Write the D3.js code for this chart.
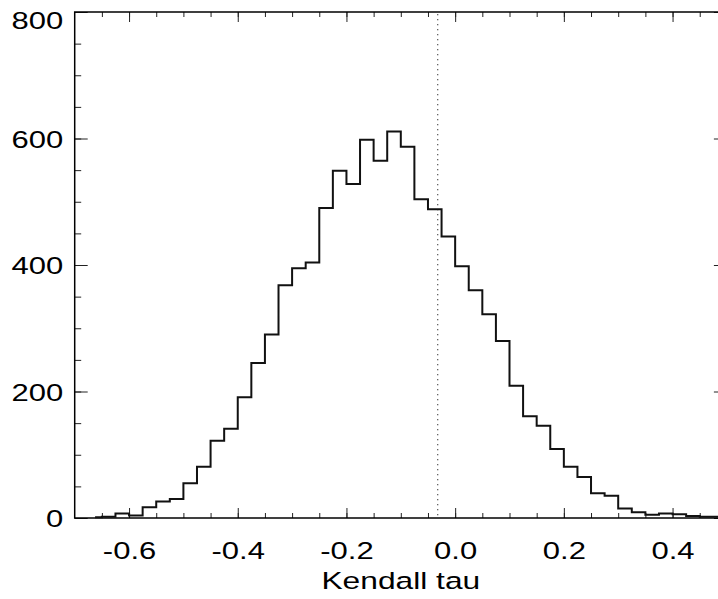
<!DOCTYPE html>
<html>
<head>
<meta charset="utf-8">
<script src="https://cdn.jsdelivr.net/npm/d3@7"></script>
<style>
  body { margin: 0; background: #fff; }
  svg { display: block; }
  .tick text, .axis-text { font-family: "Liberation Sans", Arial, sans-serif; fill: #000; }
</style>
</head>
<body>
<div class="chart"></div>
<script>
// Histogram data: bin centres (width 0.025) and counts
var binCenters = [-0.6625, -0.6375, -0.6125, -0.5875, -0.5625, -0.5375, -0.5125, -0.4875,
  -0.4625, -0.4375, -0.4125, -0.3875, -0.3625, -0.3375, -0.3125, -0.2875, -0.2625,
  -0.2375, -0.2125, -0.1875, -0.1625, -0.1375, -0.1125, -0.0875, -0.0625, -0.0375,
  -0.0125, 0.0125, 0.0375, 0.0625, 0.0875, 0.1125, 0.1375, 0.1625, 0.1875, 0.2125,
  0.2375, 0.2625, 0.2875, 0.3125, 0.3375, 0.3625, 0.3875, 0.4125, 0.4375, 0.4625, 0.4875];
var counts = [1, 2, 7, 4, 17, 26, 30, 55,
  81, 122, 141, 191, 245, 290, 368, 395, 404,
  490, 549, 528, 598, 565, 611, 587, 504, 488,
  445, 398, 360, 322, 280, 209, 161, 146, 109, 81,
  65, 39, 35, 15, 9, 5, 7, 6, 3, 2, 2];
var observedTau = -0.032;

var xMajorTicks = [-0.6, -0.4, -0.2, 0.0, 0.2, 0.4];
var yMajorTicks = [0, 200, 400, 600, 800];

// Setup chart
var svgWidth = 718;
var svgHeight = 599;
var margin = { top: 12, left: 74.7 };
var width = 652.2;
var height = 506;

var svg = d3.select(".chart")
  .append("svg")
  .attr("width", svgWidth)
  .attr("height", svgHeight);
var chart = svg.append("g")
  .attr("transform", "translate(" + margin.left + "," + margin.top + ")");

var xScale = d3.scaleLinear().domain([-0.7, 0.5]).range([0, width]);
var yScale = d3.scaleLinear().domain([0, 800]).range([height, 0]);

var xMinor = d3.range(-0.65, 0.5, 0.05).map(function(d) { return +d.toFixed(2); });
var yMinor = d3.range(50, 800, 50);

// plain hyphen for negatives, like the original
var fmtX = function(d) { return d.toFixed(1).replace("−", "-"); };

// minor ticks on all four sides
function minorAxis(axis, ticks, size) {
  return axis.tickValues(ticks).tickSize(size).tickFormat("");
}
chart.append("g").attr("class", "minor")
  .attr("transform", "translate(0," + height + ")")
  .call(minorAxis(d3.axisTop(xScale), xMinor, 5));
chart.append("g").attr("class", "minor")
  .call(minorAxis(d3.axisBottom(xScale), xMinor, 5));
chart.append("g").attr("class", "minor")
  .call(minorAxis(d3.axisRight(yScale), yMinor, 6.5));
chart.append("g").attr("class", "minor")
  .attr("transform", "translate(" + width + ",0)")
  .call(minorAxis(d3.axisLeft(yScale), yMinor, 6.5));

// major ticks
var bottomAxis = d3.axisTop(xScale).tickValues(xMajorTicks).tickSize(10)
  .tickFormat(fmtX);
var leftAxis = d3.axisRight(yScale).tickValues(yMajorTicks).tickSize(13)
  .tickFormat(d3.format("d"));

var xAxisG = chart.append("g")
  .attr("transform", "translate(0," + height + ")")
  .call(bottomAxis);
chart.append("g")
  .call(d3.axisBottom(xScale).tickValues(xMajorTicks).tickSize(10).tickFormat(""));
var yAxisG = chart.append("g")
  .call(leftAxis);
chart.append("g")
  .attr("transform", "translate(" + width + ",0)")
  .call(d3.axisLeft(yScale).tickValues(yMajorTicks).tickSize(13).tickFormat(""));

chart.selectAll(".domain").remove();
chart.selectAll(".tick line").attr("stroke", "#222").attr("stroke-width", 1);

// tick labels: stretched sideways like the original
xAxisG.selectAll(".tick text")
  .attr("x", null).attr("y", null).attr("dy", null)
  .attr("text-anchor", "middle")
  .attr("font-size", "23.5px")
  .attr("transform", "translate(0,41.3) scale(1.32,1)");

yAxisG.selectAll(".tick text")
  .attr("x", null).attr("y", null).attr("dy", null)
  .attr("text-anchor", "end")
  .attr("font-size", "23.5px")
  .attr("transform", function(d) {
    var shift = d === 800 ? 16.3 : 8.5;
    return "translate(-11.4," + shift + ") scale(1.32,1)";
  });

// frame
chart.append("rect")
  .attr("width", width)
  .attr("height", height)
  .attr("fill", "none")
  .attr("stroke", "#000")
  .attr("stroke-width", 1.5);

// observed value line
chart.append("line")
  .attr("x1", xScale(observedTau))
  .attr("x2", xScale(observedTau))
  .attr("y1", yScale(800) + 2)
  .attr("y2", yScale(0))
  .attr("stroke", "#333")
  .attr("stroke-width", 1)
  .attr("stroke-dasharray", "1.3,3.7");

// histogram as a step line through bin centres
var hist = binCenters.map(function(c, i) { return { x: c, y: counts[i] }; });
var line = d3.line()
  .x(function(d) { return xScale(d.x); })
  .y(function(d) { return yScale(d.y); })
  .curve(d3.curveStep);

chart.append("path")
  .datum(hist)
  .attr("d", line)
  .attr("fill", "none")
  .attr("stroke", "#111")
  .attr("stroke-width", 2);

// axis label
chart.append("text")
  .attr("class", "axis-text")
  .attr("text-anchor", "middle")
  .attr("font-size", "23.5px")
  .attr("transform", "translate(" + (width / 2) + "," + (height + 71) + ") scale(1.35,1)")
  .text("Kendall tau");
</script>
</body>
</html>
